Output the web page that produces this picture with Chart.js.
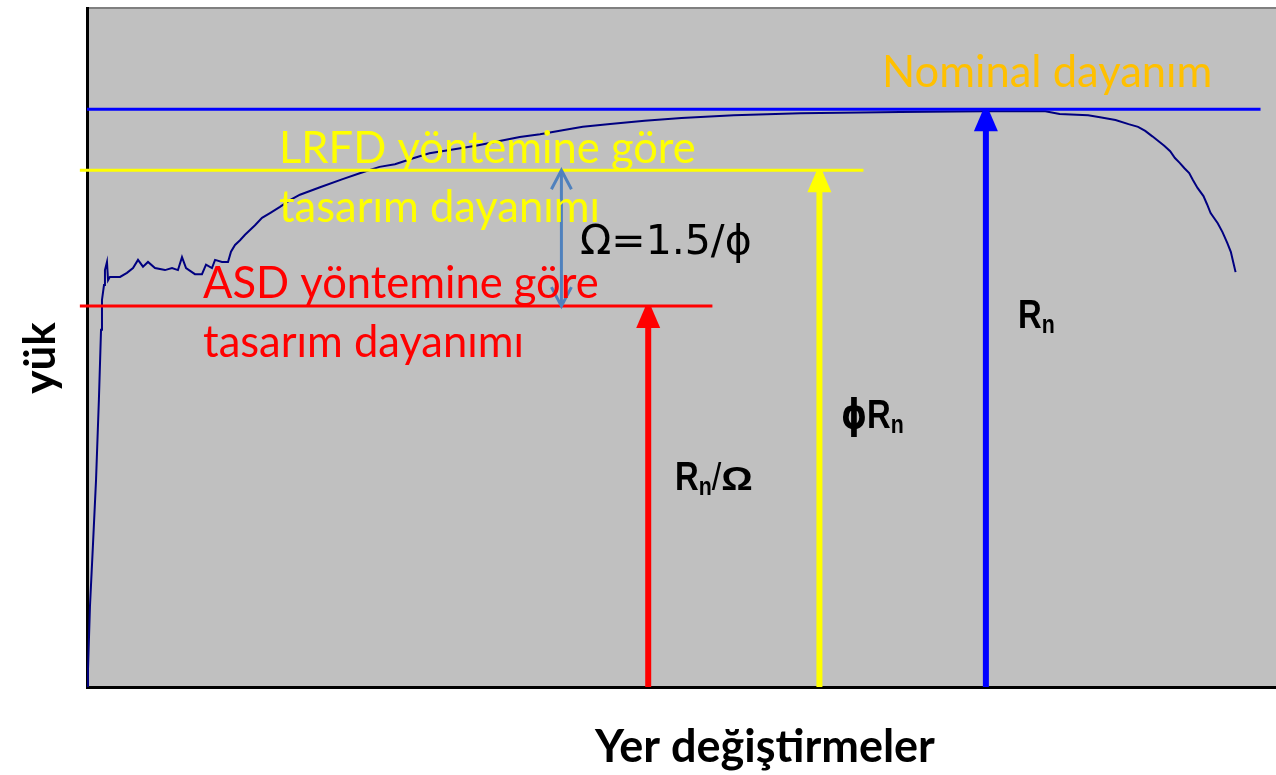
<!DOCTYPE html>
<html>
<head>
<meta charset="utf-8">
<script src="https://cdn.jsdelivr.net/npm/chart.js@4.4.1/dist/chart.umd.min.js"></script>
<style>
  html, body { margin: 0; padding: 0; background: #fff; overflow: hidden; }
</style>
</head>
<body>
<canvas id="chart" width="1276" height="775"></canvas>
<script>
// load - displacement curve (x: displacement, y: load, both 0..100)
const dispX = [0, 0.08, 0.25, 0.5, 0.76, 1.0, 1.18, 1.26, 1.43, 1.51,
  1.68, 1.77, 1.93, 2.78, 3.36, 3.87, 4.29, 4.71, 5.13, 5.72,
  6.56, 7.15, 7.65, 7.99, 8.33, 9.08, 9.67, 10.01, 10.51, 10.77,
  11.35, 11.86, 12.11, 12.45, 12.87, 13.29, 13.71, 14.13, 14.72, 15.39,
  16.23, 17.07, 17.91, 19.6, 21.5, 23.0, 24.6, 25.9, 27.5, 28.8,
  30.5, 32.7, 34.7, 36.4, 38.1, 40.0, 41.7, 44.0, 46.9, 50.0,
  54.4, 60.0, 68.4, 75.5, 80.6, 81.8, 84.2, 85.2, 86.5, 87.6,
  88.4, 89.0, 89.6, 90.1, 90.6, 91.1, 91.5, 91.9, 92.3, 92.7,
  93.0, 93.4, 93.9, 94.2, 94.5, 95.1, 95.5, 95.9, 96.2, 96.4, 96.6];
const loadY = [0, 2.4, 11.9, 20.9, 30.5, 42.3, 52.6, 57.0, 59.2, 61.4,
  62.6, 59.9, 60.4, 60.4, 61.0, 61.7, 62.9, 61.9, 62.6, 61.7,
  61.4, 61.7, 61.4, 63.3, 61.7, 60.8, 60.8, 62.2, 61.7, 62.9,
  62.6, 62.6, 64.1, 65.1, 65.8, 66.6, 67.3, 68.0, 69.1, 69.8,
  70.7, 71.7, 72.5, 73.6, 74.8, 75.7, 76.6, 77.0, 77.9, 78.6,
  79.1, 79.7, 80.4, 81.0, 81.4, 82.0, 82.5, 82.9, 83.4, 83.8,
  84.2, 84.5, 84.7, 84.8, 84.8, 84.4, 84.2, 83.9, 83.5, 82.9,
  82.5, 81.9, 81.1, 80.4, 79.7, 78.9, 77.9, 77.2, 76.4, 75.7,
  74.7, 73.5, 72.3, 71.1, 69.8, 68.3, 67.0, 65.4, 64.1, 62.6, 61.1];

// strength levels: nominal (Rn), LRFD (phi*Rn), ASD (Rn/Omega)
const levelNames = ['Nominal', 'LRFD', 'ASD'];
const levelValues = [85.1, 76.1, 56.1];
const levelFromX = [0, -0.6, -0.6];
const levelToX = [98.7, 65.3, 52.6];
const levelArrowX = [75.6, 61.6, 47.2];
const levelColors = ['#0000FF', '#FFFF00', '#FF0000'];
const omegaArrowX = 39.9;

const datasets = [];
levelNames.forEach((name, i) => {
    datasets.push({
        label: name + ' arrow',
        data: [{ x: levelArrowX[i], y: 0 }, { x: levelArrowX[i], y: levelValues[i] }],
        borderColor: levelColors[i],
        borderWidth: 6,
        arrow: 'filled'
    });
});
levelNames.forEach((name, i) => {
    datasets.push({
        label: name,
        data: [{ x: levelFromX[i], y: levelValues[i] }, { x: levelToX[i], y: levelValues[i] }],
        borderColor: levelColors[i],
        borderWidth: 3,
        clip: false
    });
});
datasets.push({
    label: 'Omega',
    data: [{ x: omegaArrowX, y: levelValues[2] }, { x: omegaArrowX, y: levelValues[1] }],
    borderColor: '#4F81BD',
    borderWidth: 3,
    arrow: 'double'
});
datasets.push({
    label: 'curve',
    data: dispX.map((x, i) => ({ x: x, y: loadY[i] })),
    borderColor: '#000080',
    borderWidth: 2
});
datasets.forEach(ds => {
    ds.showLine = true;
    ds.pointRadius = 0;
    ds.tension = 0;
    ds.fill = false;
});

// text drawn on the plot, anchored in data units
// run = [text, font, dy, horizontal scale]
const labelFont = '43.5px Lato';
const rBig = 'bold 40px "Liberation Sans"';
const rSub = 'bold 26px "Liberation Sans"';
const textLabels = [
    { x: 66.86, y: 88.37, color: '#FFC000', runs: [['Nominal dayanım', labelFont]] },
    { x: 16.15, y: 77.17, color: '#FFFF00', runs: [['LRFD yöntemine göre', labelFont]] },
    { x: 16.15, y: 68.48, color: '#FFFF00', runs: [['tasarım dayanımı', labelFont]] },
    { x: 9.76, y: 57.29, color: '#FF0000', runs: [['ASD yöntemine göre', labelFont]] },
    { x: 9.76, y: 48.60, color: '#FF0000', runs: [['tasarım dayanımı', labelFont]] },
    { x: 41.46, y: 63.77, color: '#000', runs: [['Ω=1.5/ϕ', '41px "DejaVu Sans"']] },
    { x: 78.30, y: 52.87, color: '#000', sx: 0.82,
      runs: [['R', rBig], ['n', rSub, 5]] },
    { x: 63.41, y: 38.14, color: '#000', sx: 0.82,
      runs: [['ϕ', 'bold 40px "DejaVu Sans"'], ['R', rBig], ['n', rSub, 5]] },
    { x: 49.45, y: 29.01, color: '#000', sx: 0.82,
      runs: [['R', rBig], ['n', rSub, 5], ['/', '38px "Liberation Sans"', 0, 1.1],
             ['Ω', 'bold 33px "Liberation Sans"', 0, 1.45]] }
];

const plotDecor = {
    id: 'plotDecor',
    beforeDraw(chart) {
        const { ctx, chartArea: a } = chart;
        ctx.save();
        ctx.fillStyle = '#C0C0C0';
        ctx.fillRect(a.left, a.top, a.right - a.left, a.bottom - a.top);
        ctx.fillStyle = '#808080';
        ctx.fillRect(a.left, a.top - 1, a.right - a.left, 2);
        ctx.restore();
    },
    afterDatasetsDraw(chart) {
        const ctx = chart.ctx;
        chart.data.datasets.forEach((ds, i) => {
            if (!ds.arrow) return;
            const pts = chart.getDatasetMeta(i).data;
            const a = pts[0], b = pts[pts.length - 1];
            ctx.save();
            if (ds.arrow === 'filled') {
                ctx.fillStyle = ds.borderColor;
                ctx.beginPath();
                ctx.moveTo(b.x - 3, b.y + 1);
                ctx.lineTo(b.x + 3, b.y + 1);
                ctx.lineTo(b.x + 12, b.y + 22);
                ctx.lineTo(b.x - 12, b.y + 22);
                ctx.closePath();
                ctx.fill();
            } else {
                ctx.strokeStyle = ds.borderColor;
                ctx.lineWidth = 3;
                [[b, 1], [a, -1]].forEach(([p, dir]) => {
                    ctx.beginPath();
                    ctx.moveTo(p.x - 10, p.y + dir * 19);
                    ctx.lineTo(p.x, p.y);
                    ctx.lineTo(p.x + 10, p.y + dir * 19);
                    ctx.stroke();
                });
            }
            ctx.restore();
        });
    },
    afterDraw(chart) {
        const { ctx, scales } = chart;
        ctx.save();
        ctx.textBaseline = 'alphabetic';
        ctx.textAlign = 'left';
        textLabels.forEach(l => {
            ctx.save();
            ctx.translate(scales.x.getPixelForValue(l.x), scales.y.getPixelForValue(l.y));
            ctx.scale(l.sx || 1, 1);
            ctx.fillStyle = l.color;
            let cx = 0;
            l.runs.forEach(r => {
                const k = r[3] || 1;
                ctx.font = r[1];
                ctx.save();
                ctx.translate(cx, r[2] || 0);
                ctx.scale(k, 1);
                ctx.fillText(r[0], 0, 0);
                ctx.restore();
                cx += ctx.measureText(r[0]).width * k;
            });
            ctx.restore();
        });

        // axis titles
        ctx.fillStyle = '#000';
        ctx.font = 'bold 45px Lato';
        ctx.textAlign = 'center';
        ctx.fillText('Yer değiştirmeler', 765, 762);
        ctx.translate(55, 358);
        ctx.rotate(-Math.PI / 2);
        ctx.font = 'bold 44px Lato';
        ctx.fillText('yük', 0, 0);
        ctx.restore();
    }
};

const axisOpts = {
    type: 'linear',
    min: 0,
    max: 100,
    grid: { display: false, drawTicks: false },
    ticks: { display: false },
    border: { display: true, color: '#000', width: 3 }
};

new Chart(document.getElementById('chart'), {
    type: 'scatter',
    data: { datasets: datasets },
    options: {
        responsive: false,
        animation: false,
        events: [],
        layout: { padding: { left: 87, right: 0, top: 8, bottom: 88 } },
        plugins: { legend: { display: false }, tooltip: { enabled: false } },
        scales: { x: axisOpts, y: axisOpts }
    },
    plugins: [plotDecor]
});
</script>
</body>
</html>
